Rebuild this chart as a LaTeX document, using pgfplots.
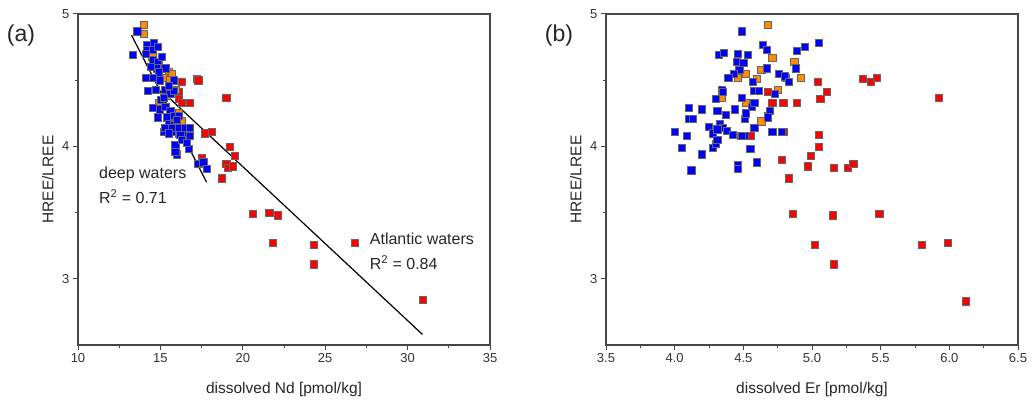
\documentclass[border=0pt]{standalone}
\usepackage{pgfplots}
\pgfplotsset{compat=1.18}
\usepackage{fontspec}
\setmainfont{Liberation Sans}
\definecolor{ptblue}{RGB}{0,0,255}
\definecolor{ptorange}{RGB}{255,140,0}
\definecolor{ptred}{RGB}{255,0,0}
\definecolor{axgray}{RGB}{70,70,70}

\pgfplotstableread{
x y
13.6 4.87
13.3 4.69
14.2 4.77
14.6 4.78
14.2 4.73
14.55 4.73
14.85 4.75
14.1 4.70
14.55 4.65
14.85 4.64
14.8 4.59
15.3 4.59
14.9 4.56
14.1 4.52
14.55 4.52
14.95 4.50
15.8 4.50
14.25 4.42
14.7 4.43
15.3 4.43
15.6 4.40
15.8 4.42
14.55 4.29
14.95 4.28
15.3 4.30
15.6 4.27
14.85 4.22
15.4 4.22
15.8 4.23
16.1 4.23
15.5 4.17
15.8 4.16
16.0 4.20
15.4 4.11
15.8 4.11
16.1 4.10
16.5 4.10
16.8 4.08
15.2 4.11
15.3 4.14
15.7 4.14
16.1 4.14
16.5 4.14
16.8 4.14
15.5 4.10
16.2 4.09
15.9 4.01
16.0 3.94
15.9 3.96
16.7 3.98
17.3 3.87
17.6 3.88
17.8 3.83
15.0 4.35
15.2 4.37
14.4 4.60
15.1 4.68
15.5 4.46
16.3 4.05
16.6 4.03
}\ndblue

\pgfplotstableread{
x y
14.0 4.92
14.0 4.85
14.5 4.68
14.9 4.62
15.5 4.56
15.2 4.52
15.7 4.55
15.9 4.43
15.4 4.38
14.9 4.33
16.1 4.25
16.3 4.19
15.6 4.50
}\ndorange

\pgfplotstableread{
x y
16.3 4.49
17.2 4.51
17.3 4.50
16.1 4.41
16.1 4.36
16.3 4.33
16.8 4.33
19.0 4.37
17.7 4.10
18.1 4.11
19.2 4.00
19.5 3.93
19.0 3.87
19.1 3.84
19.4 3.85
18.7 3.76
17.5 3.91
20.6 3.49
21.6 3.50
22.1 3.48
21.8 3.27
24.3 3.26
24.3 3.11
26.8 3.27
30.9 2.84
}\ndred

\pgfplotstableread{
x y
4.49 4.87
4.32 4.69
4.36 4.71
4.46 4.70
4.53 4.69
4.45 4.64
4.50 4.63
4.47 4.58
4.43 4.55
4.39 4.52
4.57 4.49
4.58 4.42
4.61 4.42
4.34 4.43
4.35 4.41
4.30 4.36
4.49 4.37
4.56 4.30
4.10 4.29
4.20 4.28
4.31 4.27
4.44 4.28
4.10 4.21
4.13 4.21
4.37 4.24
4.51 4.21
4.68 4.23
4.00 4.11
4.09 4.08
4.25 4.15
4.33 4.17
4.35 4.14
4.28 4.10
4.31 4.13
4.38 4.12
4.42 4.09
4.48 4.08
4.51 4.08
4.58 4.14
4.05 3.99
4.20 3.94
4.28 3.99
4.30 4.02
4.31 4.05
4.55 3.98
4.60 3.88
4.46 3.86
4.46 3.83
4.12 3.82
4.64 4.77
4.67 4.73
4.89 4.72
4.95 4.75
5.05 4.78
4.67 4.59
4.88 4.59
4.76 4.55
4.80 4.53
4.83 4.49
4.73 4.40
4.58 4.33
4.52 4.25
4.69 4.27
4.68 4.22
4.71 4.11
4.78 4.11
4.49 4.08
}\erblue

\pgfplotstableread{
x y
4.68 4.92
4.46 4.52
4.60 4.51
4.63 4.58
4.34 4.37
4.52 4.33
4.63 4.19
4.71 4.67
4.87 4.64
4.52 4.55
4.92 4.52
4.75 4.43
}\erorange

\pgfplotstableread{
x y
4.81 4.52
5.04 4.49
5.11 4.41
4.68 4.41
4.71 4.33
4.79 4.33
4.89 4.33
5.06 4.36
5.37 4.51
5.43 4.49
5.47 4.52
5.92 4.37
4.79 4.11
4.55 4.08
5.05 4.09
5.05 4.00
4.99 3.93
4.78 3.90
4.97 3.85
5.16 3.84
5.26 3.84
5.30 3.87
4.83 3.76
4.86 3.49
5.15 3.48
5.49 3.49
5.02 3.26
5.16 3.11
5.80 3.26
5.99 3.27
6.12 2.83
}\erred

\pgfplotsset{
  panel/.style={
    scale only axis,
    width=412pt, height=331pt,
    anchor=south west,
    ymin=2.5, ymax=5,
    ytick={3,4,5},
    minor y tick num=1,
    minor x tick num=1,
    tick pos=left,
    tick align=outside,
    major tick length=5pt,
    minor tick length=3pt,
    axis line style={axgray, line width=1.1pt},
    every tick/.style={axgray, line width=1pt},
    tick label style={font=\fontsize{13}{15}\selectfont, text=black!80},
    label style={font=\fontsize{15.5}{18}\selectfont, text=black!85},
    /pgf/number format/assume math mode=true,
    ylabel={HREE/LREE},
    ylabel style={at={(axis description cs:-0.073,0.5)}, anchor=center},
    xlabel style={at={(axis description cs:0.5,-0.133)}, anchor=center},
    clip=false,
  },
  dots/.style={only marks, mark=square*, mark size=3.6pt,
    mark options={draw=black!60, line width=0.5pt, fill=#1}},
}

\begin{document}
\begin{tikzpicture}[x=1pt,y=1pt]
\useasboundingbox (0,0) rectangle (1034,404);
\node[font=\fontsize{23}{26}\selectfont, text=black!85] at (21,368) {(a)};
\node[font=\fontsize{23}{26}\selectfont, text=black!85] at (559,368) {(b)};

\begin{axis}[panel, at={(78pt,59pt)},
  xmin=10, xmax=35, xtick={10,15,...,35},
  xlabel={dissolved Nd [pmol/kg]}]
\addplot[dots=ptred] table {\ndred};
\addplot[dots=ptorange] table {\ndorange};
\addplot[dots=ptblue] table {\ndblue};
\addplot[black, line width=1.2pt] coordinates {(13.25,4.84) (17.8,3.73)};
\addplot[black, line width=1.2pt] coordinates {(15.5,4.37) (30.9,2.58)};
\node[anchor=west, font=\fontsize{16}{19}\selectfont, text=black!85, inner sep=0pt] at (axis cs:11.27,3.79) {deep waters};
\node[anchor=west, font=\fontsize{16}{19}\selectfont, text=black!85, inner sep=0pt] at (axis cs:11.27,3.62) {R\textsuperscript{2} = 0.71};
\node[anchor=west, font=\fontsize{16}{19}\selectfont, text=black!85, inner sep=0pt] at (axis cs:27.7,3.30) {Atlantic waters};
\node[anchor=west, font=\fontsize{16}{19}\selectfont, text=black!85, inner sep=0pt] at (axis cs:27.7,3.12) {R\textsuperscript{2} = 0.84};
\end{axis}

\begin{axis}[panel, at={(606pt,59pt)},
  xmin=3.5, xmax=6.5, xtick={3.5,4,...,6.5},
  xticklabel style={/pgf/number format/.cd, fixed, fixed zerofill, precision=1},
  xlabel={dissolved Er [pmol/kg]}]
\addplot[dots=ptred] table {\erred};
\addplot[dots=ptorange] table {\erorange};
\addplot[dots=ptblue] table {\erblue};
\end{axis}
\end{tikzpicture}
\end{document}
